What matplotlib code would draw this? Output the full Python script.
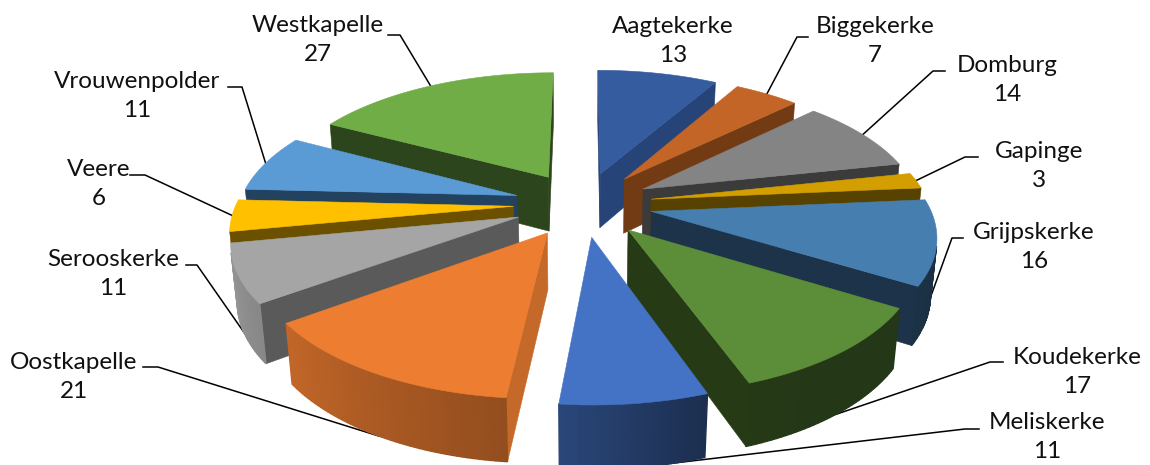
import numpy as np
import matplotlib
matplotlib.use("Agg")
import matplotlib.pyplot as plt

names = ["Aagtekerke", "Biggekerke", "Domburg", "Gapinge", "Grijpskerke", "Koudekerke",
         "Meliskerke", "Oostkapelle", "Serooskerke", "Veere", "Vrouwenpolder", "Westkapelle"]
values = [13, 7, 14, 3, 16, 17, 11, 21, 11, 6, 11, 27]

top_colors = ["#355C9F", "#C26526", "#848484", "#D29E00", "#467EB0", "#5C8E3A",
              "#4472C4", "#ED7D31", "#A5A5A5", "#FFC000", "#5B9BD5", "#70AD47"]
cut_colors = ["#264478", "#723B14", "#3B3B3B", "#584200", "#1C334A", "#263A16",
              "#1F3864", "#C5692A", "#5A5A5A", "#6B5000", "#234260", "#2D451C"]

# label centres and leader elbows, in pixels
label_x = [673, 875, 1007, 1039, 1034, 1077, 1047, 74, 113, 99, 137, 318]
label_y = [41, 41, 80, 166, 247, 372, 437, 377, 274, 184, 96, 40]
elbow_end = [None, (808, 37), (945, 71), (978, 157), (963, 238), (1003, 362),
             (979, 429), (143, 367), (186, 265), (130, 175), (228, 87), (388, 35)]
elbow_mid = [None, (797, 37), (933, 71), (965, 157), (952, 238), (990, 362),
             (965, 429), (158, 367), (197, 265), (145, 175), (242, 87), (400, 35)]

# camera for the 3d look
elev = np.radians(26.8)
dist = 5.6
focal = 1602
x_scale = 0.97
cx, cy = 583, 204
thick = 0.22
explode = 0.25


def project(x, y, z):
    depth = y * np.cos(elev) - z * np.sin(elev) + dist
    sx = cx + x_scale * focal * x / depth
    sy = cy - focal * (y * np.sin(elev) + z * np.cos(elev)) / depth
    return sx, sy


def shade(color, f):
    rgb = np.array(matplotlib.colors.to_rgb(color))
    return tuple(rgb * f)


def wall_factor(deg):
    return np.interp(deg, [100, 160, 186, 234, 260], [0.38, 0.40, 0.62, 0.82, 0.92])


def face(ax, pts, color, lw=0.4):
    xy = [project(*p) for p in pts]
    ax.fill([q[0] for q in xy], [q[1] for q in xy], color=color, lw=lw, zorder=2)


def visible(normal, p):
    cam = np.array([0, -dist * np.cos(elev), dist * np.sin(elev)])
    return np.dot(normal, cam - np.array(p)) > 0


fig = plt.figure(figsize=(11.5, 4.65), dpi=100)
ax = fig.add_axes([0, 0, 1, 1])
ax.set_xlim(0, 1150)
ax.set_ylim(465, 0)
ax.axis("off")

edges = np.cumsum([0] + values) / sum(values) * 2 * np.pi
mids = (edges[:-1] + edges[1:]) / 2

for i in np.argsort(-np.cos(mids)):
    a1, a2 = edges[i], edges[i + 1]
    ox = explode * np.sin(mids[i])
    oy = explode * np.cos(mids[i])
    th = np.linspace(a1, a2, max(int((a2 - a1) * 60), 2))
    rim = [(ox + np.sin(t), oy + np.cos(t)) for t in th]
    tip = (ox, oy)

    # cut faces
    n1 = np.array([-np.cos(a1), np.sin(a1), 0])
    n2 = np.array([np.cos(a2), -np.sin(a2), 0])
    if visible(n1, (*tip, 0)):
        face(ax, [(*tip, 0), (*rim[0], 0), (*rim[0], -thick), (*tip, -thick)], cut_colors[i])
    if visible(n2, (*tip, 0)):
        face(ax, [(*tip, 0), (*rim[-1], 0), (*rim[-1], -thick), (*tip, -thick)], cut_colors[i])

    # outer wall, one strip per step so it shades across
    for j in range(len(th) - 1):
        t = (th[j] + th[j + 1]) / 2
        n = np.array([np.sin(t), np.cos(t), 0])
        if visible(n, (*rim[j], 0)):
            col = shade(top_colors[i], wall_factor(np.degrees(t)))
            face(ax, [(*rim[j], 0), (*rim[j + 1], 0), (*rim[j + 1], -thick), (*rim[j], -thick)], col, lw=1.0)

    # top
    face(ax, [(*tip, 0)] + [(*r, 0) for r in rim], top_colors[i])

for i, name in enumerate(names):
    ax.text(label_x[i], label_y[i], f"{name}\n{values[i]}", ha="center", va="center",
            fontsize=17.5, family="Lato", color="#111111", linespacing=1.52, zorder=5)
    if elbow_end[i] is None:
        continue
    m = mids[i]
    z = -thick * np.clip((-np.cos(m) - 0.07) * 6, 0, 1)
    r = 1 + explode
    ax_pt = project(r * np.sin(m), r * np.cos(m), z)
    ax.plot([elbow_end[i][0], elbow_mid[i][0], ax_pt[0]],
            [elbow_end[i][1], elbow_mid[i][1], ax_pt[1]],
            color="black", lw=1.1, zorder=1)

fig.savefig("out.png", dpi=100)
